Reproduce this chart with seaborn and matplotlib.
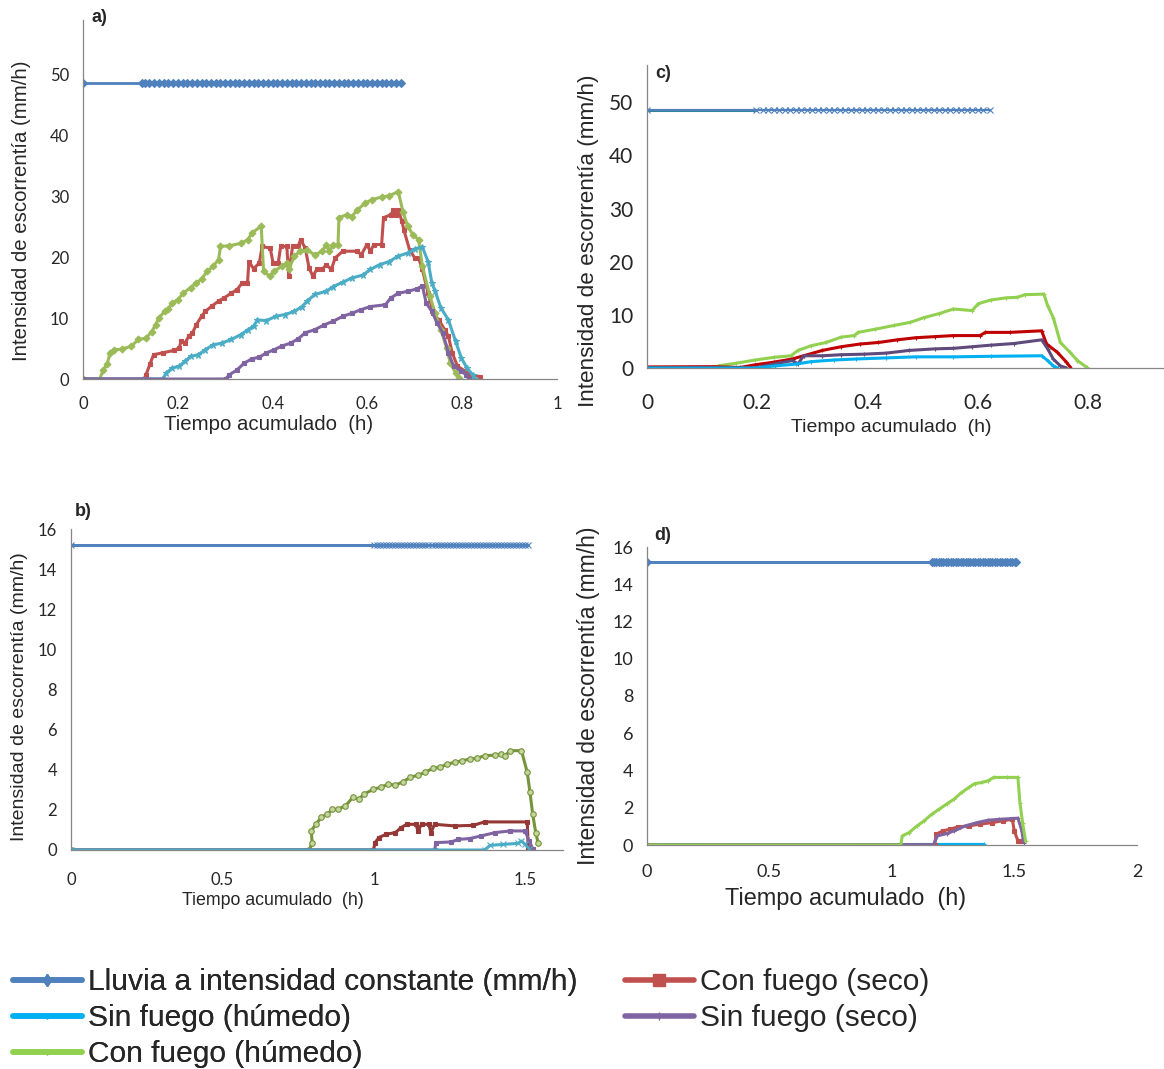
import matplotlib
matplotlib.use("Agg")
import matplotlib.pyplot as plt
import seaborn as sns
from matplotlib.lines import Line2D

# ---------------- data ----------------
# a)  rainfall 48.6 mm/h
a_lluvia_t = [0, 0.124, 0.13, 0.14, 0.15, 0.16, 0.17, 0.18, 0.19, 0.20, 0.21, 0.22, 0.23,
              0.24, 0.25, 0.26, 0.27, 0.28, 0.29, 0.30, 0.31, 0.32, 0.33, 0.34, 0.35, 0.36,
              0.37, 0.38, 0.39, 0.40, 0.41, 0.42, 0.43, 0.44, 0.45, 0.46, 0.47, 0.48, 0.49,
              0.50, 0.51, 0.52, 0.53, 0.54, 0.55, 0.56, 0.57, 0.58, 0.59, 0.60, 0.61, 0.62,
              0.63, 0.64, 0.65, 0.66, 0.671]
a_lluvia = [48.6] * len(a_lluvia_t)
a_cfh_t = [0, 0.035, 0.043, 0.051, 0.057, 0.066, 0.082, 0.102, 0.117, 0.133, 0.145, 0.153,
           0.160, 0.172, 0.180, 0.188, 0.200, 0.211, 0.227, 0.239, 0.250, 0.262, 0.274,
           0.286, 0.290, 0.309, 0.333, 0.348, 0.356, 0.376, 0.381, 0.394, 0.403, 0.419,
           0.431, 0.434, 0.446, 0.458, 0.473, 0.489, 0.505, 0.513, 0.520, 0.528, 0.538,
           0.540, 0.556, 0.567, 0.579, 0.595, 0.610, 0.630, 0.646, 0.665, 0.675, 0.685,
           0.696, 0.708, 0.716, 0.732, 0.743, 0.755, 0.767, 0.775, 0.786, 0.794]
a_cfh = [0, 0, 1.5, 2.4, 4.3, 4.8, 4.9, 5.4, 6.5, 6.7, 7.8, 8.9, 10.0, 11.1, 11.5, 12.5, 13.0,
         14.1, 15.0, 15.8, 16.4, 17.7, 18.5, 19.6, 21.8, 21.9, 22.3, 22.9, 24.0, 25.1, 17.7,
         16.9, 17.7, 18.5, 19.1, 18.0, 20.2, 21.0, 21.2, 20.4, 21.0, 22.1, 21.0, 22.1, 22.1,
         26.5, 27.0, 26.7, 27.8, 28.9, 29.5, 29.9, 30.1, 30.8, 27.5, 25.1, 23.7, 22.9, 18.5,
         13.6, 10.8, 8.1, 5.1, 2.6, 1.0, 0.2]
a_cfs_t = [0, 0.129, 0.133, 0.141, 0.149, 0.168, 0.192, 0.203, 0.207, 0.215, 0.223, 0.231,
           0.239, 0.250, 0.258, 0.272, 0.286, 0.297, 0.313, 0.325, 0.336, 0.347, 0.350,
           0.360, 0.372, 0.378, 0.395, 0.401, 0.412, 0.417, 0.430, 0.434, 0.442, 0.454,
           0.459, 0.469, 0.477, 0.485, 0.493, 0.505, 0.513, 0.524, 0.532, 0.548, 0.579,
           0.587, 0.599, 0.606, 0.614, 0.630, 0.634, 0.649, 0.655, 0.661, 0.665, 0.673,
           0.677, 0.689, 0.700, 0.708, 0.716, 0.728, 0.739, 0.751, 0.763, 0.771, 0.779,
           0.790, 0.806, 0.818, 0.837]
a_cfs = [0, 0, 0.7, 2.4, 4.0, 4.3, 4.7, 5.1, 6.2, 5.9, 7.0, 7.6, 8.9, 10.3, 11.1, 12.0, 12.8,
         13.3, 14.1, 14.7, 15.8, 15.8, 19.3, 18.1, 19.1, 21.8, 21.5, 19.1, 19.1, 21.8, 21.8,
         16.9, 21.8, 21.8, 22.9, 21.5, 18.2, 16.9, 18.0, 18.0, 18.8, 18.0, 19.9, 21.0, 21.0,
         20.4, 22.1, 21.0, 22.1, 22.1, 26.5, 27.0, 27.7, 27.0, 27.8, 25.9, 24.5, 21.2, 19.9,
         19.9, 18.0, 14.1, 10.8, 9.7, 8.1, 7.0, 4.3, 2.1, 1.3, 0.7, 0.4]
a_sfh_t = [0, 0.168, 0.176, 0.188, 0.203, 0.215, 0.227, 0.243, 0.258, 0.274, 0.293, 0.313,
           0.333, 0.348, 0.360, 0.368, 0.387, 0.407, 0.426, 0.446, 0.462, 0.473, 0.489,
           0.513, 0.528, 0.548, 0.567, 0.591, 0.606, 0.626, 0.646, 0.665, 0.685, 0.700,
           0.716, 0.728, 0.736, 0.743, 0.755, 0.771, 0.786, 0.798, 0.810, 0.822, 0.827]
a_sfh = [0, 0, 1.0, 1.8, 2.1, 2.9, 3.7, 4.0, 4.8, 5.6, 5.9, 6.5, 7.3, 8.1, 8.7, 9.7, 9.6, 10.3,
         10.6, 11.1, 11.9, 12.8, 13.9, 14.4, 15.2, 15.9, 16.6, 17.1, 18.0, 18.8, 19.3, 20.2,
         20.7, 21.4, 21.7, 19.3, 15.8, 14.4, 11.7, 9.7, 6.2, 3.5, 1.8, 0.7, 0]
a_sfs_t = [0, 0.301, 0.309, 0.325, 0.340, 0.356, 0.372, 0.387, 0.403, 0.419, 0.438, 0.454,
           0.469, 0.489, 0.509, 0.528, 0.548, 0.567, 0.587, 0.606, 0.638, 0.649, 0.665,
           0.685, 0.704, 0.716, 0.724, 0.736, 0.747, 0.759, 0.771, 0.782, 0.798, 0.808, 0.814]
a_sfs = [0, 0, 0.7, 1.5, 2.6, 3.3, 3.6, 4.3, 4.8, 5.4, 5.9, 6.6, 7.6, 8.1, 8.9, 9.5, 10.3, 10.8,
         11.4, 11.9, 12.2, 13.3, 14.1, 14.4, 14.8, 15.3, 12.5, 11.1, 9.2, 7.6, 4.3, 2.1, 1.3,
         0.7, 0]

# c)
c_lluvia_t = [0, 0.197, 0.21, 0.22, 0.23, 0.24, 0.25, 0.26, 0.27, 0.28, 0.29, 0.30, 0.31,
              0.32, 0.33, 0.34, 0.35, 0.36, 0.37, 0.38, 0.39, 0.40, 0.41, 0.42, 0.43, 0.44,
              0.45, 0.46, 0.47, 0.48, 0.49, 0.50, 0.51, 0.52, 0.53, 0.54, 0.55, 0.56, 0.57,
              0.58, 0.59, 0.60, 0.61, 0.623]
c_lluvia = [48.6] * len(c_lluvia_t)
c_cfh_t = [0, 0.120, 0.131, 0.162, 0.196, 0.230, 0.261, 0.274, 0.298, 0.325, 0.352, 0.376,
           0.383, 0.414, 0.448, 0.478, 0.503, 0.529, 0.556, 0.590, 0.601, 0.624, 0.652,
           0.672, 0.686, 0.720, 0.727, 0.737, 0.750, 0.767, 0.781, 0.798]
c_cfh = [0, 0, 0.44, 0.9, 1.5, 2.0, 2.3, 3.3, 4.2, 4.8, 5.8, 6.1, 6.7, 7.3, 8.0, 8.6, 9.5, 10.2,
         11.1, 10.8, 12.1, 12.8, 13.2, 13.3, 13.8, 13.9, 11.7, 9.5, 4.8, 3.0, 1.4, 0.1]
c_cfs_t = [0, 0.120, 0.169, 0.196, 0.230, 0.264, 0.284, 0.318, 0.352, 0.386, 0.420, 0.454,
           0.488, 0.522, 0.556, 0.604, 0.614, 0.658, 0.716, 0.725, 0.744, 0.761, 0.769]
c_cfs = [0.2, 0.25, 0.1, 0.6, 1.1, 1.7, 2.3, 3.3, 4.0, 4.5, 4.8, 5.3, 5.7, 5.9, 6.1, 6.1, 6.7,
         6.7, 7.0, 4.5, 3.0, 1.1, 0]
c_sfs_t = [0, 0.196, 0.230, 0.264, 0.274, 0.284, 0.318, 0.352, 0.393, 0.434, 0.475, 0.522,
           0.556, 0.590, 0.624, 0.665, 0.716, 0.727, 0.737, 0.750, 0.761]
c_sfs = [0, 0, 0.75, 1.4, 0.75, 2.3, 2.3, 2.5, 2.6, 2.8, 3.3, 3.6, 3.7, 4.0, 4.3, 4.6, 5.3, 3.6,
         1.7, 0.4, 0]
c_sfh_t = [0, 0.196, 0.233, 0.271, 0.298, 0.339, 0.380, 0.434, 0.488, 0.556, 0.624, 0.716,
           0.727, 0.737, 0.745]
c_sfh = [0, 0, 0.4, 0.75, 1.2, 1.5, 1.7, 1.9, 2.1, 2.1, 2.2, 2.3, 1.4, 0.4, 0]

# b)  rainfall 15.2 mm/h
b_lluvia_t = [0, 1.0, 1.01, 1.02, 1.03, 1.04, 1.05, 1.06, 1.07, 1.08, 1.09, 1.10, 1.11, 1.12,
              1.13, 1.14, 1.15, 1.16, 1.17, 1.18, 1.19, 1.20, 1.21, 1.22, 1.23, 1.24, 1.25,
              1.26, 1.27, 1.28, 1.29, 1.30, 1.31, 1.32, 1.33, 1.34, 1.35, 1.36, 1.37, 1.38,
              1.39, 1.40, 1.41, 1.42, 1.43, 1.44, 1.45, 1.46, 1.47, 1.48, 1.49, 1.50, 1.509]
b_lluvia = [15.2] * len(b_lluvia_t)
b_cfh_t = [0, 0.787, 0.796, 0.793, 0.808, 0.826, 0.845, 0.863, 0.881, 0.906, 0.930, 0.949,
           0.967, 0.998, 1.022, 1.047, 1.071, 1.096, 1.120, 1.145, 1.169, 1.194, 1.218,
           1.242, 1.267, 1.291, 1.316, 1.340, 1.365, 1.401, 1.420, 1.432, 1.450, 1.487,
           1.506, 1.515, 1.524, 1.534, 1.542]
b_cfh = [0, 0, 0.37, 0.95, 1.28, 1.62, 1.78, 2.03, 2.03, 2.2, 2.62, 2.53, 2.78, 3.03, 3.12,
         3.28, 3.23, 3.4, 3.62, 3.73, 3.87, 4.07, 4.12, 4.28, 4.37, 4.45, 4.53, 4.57, 4.7,
         4.73, 4.78, 4.7, 4.95, 4.95, 3.87, 2.87, 1.78, 0.87, 0.33]
b_cfs_t = [0, 0.998, 1.004, 1.016, 1.040, 1.071, 1.090, 1.108, 1.139, 1.145, 1.157, 1.181,
           1.188, 1.200, 1.267, 1.328, 1.365, 1.506, 1.509]
b_cfs = [0, 0, 0.37, 0.62, 0.78, 0.87, 1.12, 1.28, 1.28, 0.95, 1.28, 1.28, 0.87, 1.28, 1.2,
         1.23, 1.4, 1.4, 0.12]
b_sfs_t = [0, 1.200, 1.205, 1.255, 1.279, 1.316, 1.353, 1.401, 1.450, 1.499, 1.512, 1.524]
b_sfs = [0, 0, 0.37, 0.4, 0.53, 0.57, 0.7, 0.87, 0.95, 0.95, 0.45, 0.07]
b_sfh_t = [0, 1.365, 1.383, 1.426, 1.475, 1.487, 1.499, 1.512]
b_sfh = [0, 0, 0.23, 0.28, 0.33, 0.45, 0.28, 0.07]

# d)
d_lluvia_t = [0, 1.162, 1.17, 1.18, 1.19, 1.20, 1.21, 1.22, 1.23, 1.24, 1.25, 1.26, 1.27,
              1.28, 1.29, 1.30, 1.31, 1.32, 1.33, 1.34, 1.35, 1.36, 1.37, 1.38, 1.39, 1.40,
              1.41, 1.42, 1.43, 1.44, 1.45, 1.46, 1.47, 1.48, 1.49, 1.50, 1.507]
d_lluvia = [15.2] * len(d_lluvia_t)
d_cfh_t = [0, 1.036, 1.042, 1.070, 1.100, 1.131, 1.162, 1.192, 1.223, 1.253, 1.284, 1.315,
           1.338, 1.369, 1.392, 1.415, 1.468, 1.514, 1.522, 1.533, 1.545]
d_cfh = [0, 0, 0.49, 0.67, 1.0, 1.3, 1.65, 1.92, 2.2, 2.46, 2.82, 3.1, 3.3, 3.36, 3.45, 3.63,
         3.63, 3.63, 2.28, 1.2, 0.22]
d_cfs_t = [0, 1.174, 1.180, 1.208, 1.238, 1.269, 1.315, 1.361, 1.407, 1.453, 1.491, 1.499,
           1.514, 1.530]
d_cfs = [0, 0, 0.58, 0.76, 0.85, 0.97, 1.03, 1.12, 1.2, 1.3, 1.38, 0.76, 0.22, 0.22]
d_sfs_t = [0, 1.169, 1.185, 1.223, 1.254, 1.300, 1.346, 1.392, 1.438, 1.514, 1.530, 1.537]
d_sfs = [0, 0, 0.49, 0.61, 0.76, 1.03, 1.2, 1.33, 1.38, 1.44, 0.76, 0.13]
d_sfh_t = [0, 1.177, 1.376]
d_sfh = [0, 0.03, 0.03]

legend_left = ["Lluvia a intensidad constante (mm/h)", "Sin fuego (húmedo)",
               "Con fuego (húmedo)"]
legend_right = ["Con fuego (seco)", "Sin fuego (seco)"]

# ---------------- styling ----------------
W, H = 1164, 1069
sns.set_style("white")
plt.rcParams["font.family"] = ["Liberation Sans", "DejaVu Sans"]
TICKFONT = ["Lato", "DejaVu Sans"]
AXIS_GREY = "#868686"

fig = plt.figure(figsize=(W / 100, H / 100), dpi=100)


def box(x0, y0, x1, y1):
    # pixel box (left, top, right, bottom) -> figure fraction rect
    return [x0 / W, 1 - y1 / H, (x1 - x0) / W, (y1 - y0) / H]


def series(ax, t, y, color, marker, ms, lw=2.2):
    sns.lineplot(x=t, y=y, ax=ax, color=color, linewidth=lw, marker=marker,
                 markersize=ms, markeredgecolor=color, markeredgewidth=0.8,
                 sort=False, estimator=None)


def style(ax, xlim, ylim, xticks, yticks, tick_fs, xpad, xlab, ylab):
    ax.set_xlim(*xlim)
    ax.set_ylim(*ylim)
    ax.set_xticks(xticks)
    ax.set_xticklabels(["%g" % v for v in xticks], fontsize=tick_fs, family=TICKFONT)
    ax.set_yticks(yticks)
    ax.set_yticklabels([str(v) for v in yticks], fontsize=tick_fs, family=TICKFONT)
    for s in ["top", "right"]:
        ax.spines[s].set_visible(False)
    for s in ["left", "bottom"]:
        ax.spines[s].set_color(AXIS_GREY)
        ax.spines[s].set_linewidth(0.9)
    ax.tick_params(length=4, color=AXIS_GREY, width=0.8, direction="out", pad=6)
    ax.tick_params(axis="x", pad=xpad)
    # label: (fontsize, x, y) in axes fraction
    fs, lx, ly = xlab
    ax.set_xlabel("Tiempo acumulado  (h)", fontsize=fs, va="center")
    ax.xaxis.set_label_coords(lx, ly)
    fs, lx, ly = ylab
    ax.set_ylabel("Intensidad de escorrentía (mm/h)", fontsize=fs, va="center")
    ax.yaxis.set_label_coords(lx, ly)
    ax.patch.set_alpha(0)


# ---- a) ----
ax_a = fig.add_axes(box(83, 20, 557, 379))
series(ax_a, a_lluvia_t, a_lluvia, "#4F81BD", "D", 4.5, 2)
series(ax_a, a_cfs_t, a_cfs, "#C0504D", "s", 3.5)
series(ax_a, a_cfh_t, a_cfh, "#9BBB59", "D", 3.5)
series(ax_a, a_sfh_t, a_sfh, "#4BACC6", "*", 4.5)
series(ax_a, a_sfs_t, a_sfs, "#8064A2", "s", 3.5)
style(ax_a, (0, 1), (0, 59), [0, 0.2, 0.4, 0.6, 0.8, 1], [0, 10, 20, 30, 40, 50],
      12, 8, (14.7, 0.392, -0.128), (14.7, -0.129, 0.468))

# ---- c) ----
ax_c = fig.add_axes(box(647, 65, 1164, 368))
series(ax_c, [0, 0.197], [48.6, 48.6], "#31859C", None, 0, 2.2)
series(ax_c, c_lluvia_t, c_lluvia, "#4F81BD", "x", 5, 1.5)
series(ax_c, c_cfh_t, c_cfh, "#92D050", "+", 3.5)
series(ax_c, c_cfs_t, c_cfs, "#C00000", "+", 3.5)
series(ax_c, c_sfs_t, c_sfs, "#604A7B", "+", 3.5)
series(ax_c, c_sfh_t, c_sfh, "#00B0F0", "+", 3.5)
style(ax_c, (0, 0.938), (0, 57), [0, 0.2, 0.4, 0.6, 0.8], [0, 10, 20, 30, 40, 50],
      15, 14, (14, 0.472, -0.195), (16.2, -0.114, 0.42))

# ---- b) ----
ax_b = fig.add_axes(box(71, 529, 563, 850))
series(ax_b, b_lluvia_t, b_lluvia, "#4F81BD", "x", 5, 2)
series(ax_b, [0, 1.0], [15.2, 15.2], "#4F81BD", None, 0, 2)
series(ax_b, b_cfh_t, b_cfh, "#77933C", "o", 4)
ax_b.lines[-1].set_markerfacecolor("#C3D69B")
series(ax_b, b_cfs_t, b_cfs, "#953735", "s", 3.5)
series(ax_b, b_sfs_t, b_sfs, "#8064A2", "s", 3.5)
series(ax_b, b_sfh_t, b_sfh, "#4BACC6", "x", 4)
style(ax_b, (0, 1.624), (0, 16), [0, 0.5, 1, 1.5], [0, 2, 4, 6, 8, 10, 12, 14, 16],
      12, 12, (12.8, 0.41, -0.156), (14, -0.104, 0.477))

# ---- d) ----
ax_d = fig.add_axes(box(647, 547, 1137, 845))
series(ax_d, d_lluvia_t, d_lluvia, "#4F81BD", "D", 4, 2)
series(ax_d, [0, 1.162], [15.2, 15.2], "#4F81BD", None, 0, 2)
series(ax_d, d_sfh_t, d_sfh, "#00B0F0", "+", 3.5)
series(ax_d, d_cfs_t, d_cfs, "#C0504D", "s", 3)
series(ax_d, d_sfs_t, d_sfs, "#8064A2", "+", 3.5)
series(ax_d, d_cfh_t, d_cfh, "#92D050", "+", 3.5)
style(ax_d, (0, 2), (0, 16), [0, 0.5, 1, 1.5, 2], [0, 2, 4, 6, 8, 10, 12, 14, 16],
      13, 10, (16.9, 0.406, -0.178), (16.6, -0.120, 0.50))

# panel letters
for txt, px, py in [("a)", 92, 18), ("c)", 655, 73), ("b)", 75, 511), ("d)", 654, 535)]:
    fig.text(px / W, 1 - py / H, txt, fontsize=13, fontweight="bold", va="center", ha="left")

# ---------------- legend (two blocks) ----------------
h_left = [
    Line2D([], [], color="#4F81BD", lw=4, marker="d", ms=6),
    Line2D([], [], color="#00B0F0", lw=4, marker="|", ms=5),
    Line2D([], [], color="#92D050", lw=4, marker="|", ms=5),
]
h_right = [
    Line2D([], [], color="#C0504D", lw=4, marker="s", ms=8),
    Line2D([], [], color="#8064A2", lw=4, marker="+", ms=6),
]
leg_kw = dict(loc="upper left", frameon=False, fontsize=21.5, handlelength=2.3,
              handletextpad=0.2, labelspacing=0.27, borderaxespad=0, borderpad=0)
leg1 = fig.legend(h_left, legend_left, bbox_to_anchor=(13 / W, 1 - 968 / H), **leg_kw)
fig.legend(h_right, legend_right, bbox_to_anchor=(625 / W, 1 - 968 / H), **leg_kw)
fig.add_artist(leg1)

fig.savefig("out.png", dpi=100)
